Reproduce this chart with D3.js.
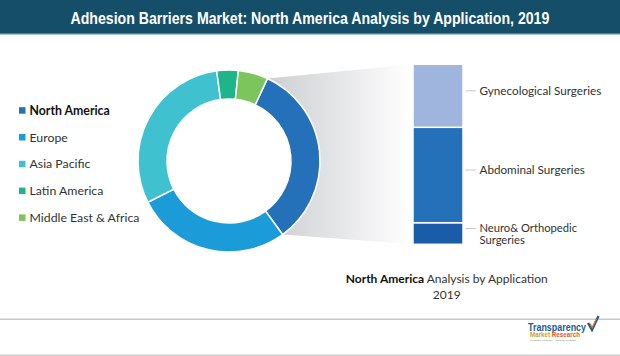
<!DOCTYPE html>
<html><head><meta charset="utf-8">
<script src="https://cdn.jsdelivr.net/npm/d3@7"></script>
<style>
html,body{margin:0;padding:0;background:#fff;}
svg{display:block;}
</style>
</head><body>
<svg id="chart" width="620" height="356"></svg>
<script>
const titleText = "Adhesion Barriers Market: North America Analysis by Application, 2019";
const regions = ["North America", "Europe", "Asia Pacific", "Latin America", "Middle East & Africa"];
const regionShares = [33, 27.5, 30.3, 3.8, 5.3];
const regionColors = ["#2470b9", "#1b9cd8", "#40c1cf", "#1fb58a", "#7cc55c"];
const applications = ["Neuro& Orthopedic Surgeries", "Abdominal Surgeries", "Gynecological Surgeries"];
const applicationShares = [12, 53, 35];
const applicationColors = ["#1a5ca8", "#2470b9", "#a0b5dd"];

const svg = d3.select("#chart");
const font = "Lato, 'Open Sans', sans-serif";

// Title bar
svg.append("rect").attr("x",0).attr("y",0).attr("width",620).attr("height",34).attr("fill","#154e68");
svg.append("rect").attr("x",0).attr("y",33).attr("width",620).attr("height",1.5).attr("fill","#4f8396");
const tg = svg.append("g");
const title = tg.append("text").attr("x",0).attr("y",0)
  .attr("fill","#fff").attr("font-family","'Liberation Sans','DejaVu Sans',sans-serif")
  .attr("font-weight","bold").attr("font-size",17).text(titleText);
const tw = title.node().getComputedTextLength();
tg.attr("transform",`translate(70.5,24.3) scale(${479/tw},1)`);

// Pie
const cx = 229, cy = 161, rOuter = 91, rInner = 62;
const pieData = regions.map((r,i)=>({name:r, value:regionShares[i], color:regionColors[i]}));
const a0 = 25*Math.PI/180;
const arcs = d3.pie().sort(null).value(d=>d.value).startAngle(a0).endAngle(a0+2*Math.PI)(pieData);
const arcGen = d3.arc().innerRadius(rInner).outerRadius(rOuter);

// Wedge (zoom) from North America slice to bar
const barX = 413, barW = 50, barTop = 64.3, barBottom = 244.3;
const na = arcs[0];
const pt = a => [cx + rOuter*Math.sin(a), cy - rOuter*Math.cos(a)];
const p1 = pt(na.startAngle), p2 = pt(na.endAngle);
const defs = svg.append("defs");
const grad = defs.append("linearGradient").attr("id","wg").attr("gradientUnits","userSpaceOnUse")
  .attr("x1",265).attr("y1",0).attr("x2",410).attr("y2",0);
grad.append("stop").attr("offset","0").attr("stop-color","#cdced1");
grad.append("stop").attr("offset","0.45").attr("stop-color","#e2e3e5");
grad.append("stop").attr("offset","1").attr("stop-color","#ffffff");
svg.append("path").attr("d", d3.line()([p1,[barX,barTop],[barX,barBottom],p2,[cx,cy]]) + "Z").attr("fill","url(#wg)");
svg.append("circle").attr("cx",cx).attr("cy",cy).attr("r",rInner).attr("fill","#fff");

const g = svg.append("g").attr("transform",`translate(${cx},${cy})`);
g.selectAll("path").data(arcs).join("path").attr("d",arcGen)
  .attr("fill",d=>d.data.color).attr("stroke","#fff").attr("stroke-width",1.5);

// Legend
const legY0 = 110.5, legStep = 26.8;
const leg = svg.append("g");
regions.forEach((r,i)=>{
  const y = legY0 + i*legStep;
  leg.append("rect").attr("x",19).attr("y",y-3.3).attr("width",6.5).attr("height",6.5).attr("fill",regionColors[i]);
  leg.append("text").attr("x",29.5).attr("y",y+4.3).attr("font-family",font).attr("font-size",12.3)
    .attr("font-weight", i===0 ? "bold" : "normal").attr("fill", i===0 ? "#111" : "#333").text(r);
});

// Stacked bar
const y = d3.scaleLinear().domain([0, d3.sum(applicationShares)]).range([barBottom, barTop]);
let acc = 0;
const segs = applicationShares.map((v,i)=>{ const s = {name:applications[i], y0:acc, y1:acc+v, color:applicationColors[i]}; acc += v; return s; });
svg.append("g").selectAll("rect").data(segs).join("rect")
  .attr("x",barX).attr("width",barW).attr("y",d=>y(d.y1)).attr("height",d=>y(d.y0)-y(d.y1))
  .attr("fill",d=>d.color).attr("stroke","#fff").attr("stroke-width",1.5);

// Bar labels
segs.forEach(d=>{
  const ly = (y(d.y0)+y(d.y1))/2 - 5;
  svg.append("line").attr("x1",465.5).attr("x2",476).attr("y1",ly).attr("y2",ly).attr("stroke","#bbb").attr("stroke-width",0.8);
  if (d.name.startsWith("Neuro")) {
    svg.append("text").attr("x",479.5).attr("y",ly+3).attr("font-family",font).attr("font-size",11.2).attr("fill","#333").text("Neuro& Orthopedic");
    svg.append("text").attr("x",479.5).attr("y",ly+15.3).attr("font-family",font).attr("font-size",11.2).attr("fill","#333").text("Surgeries");
  } else {
    svg.append("text").attr("x",479.5).attr("y",ly+4).attr("font-family",font).attr("font-size",11.7).attr("fill","#333").text(d.name);
  }
});

// Caption
const cap = svg.append("text").attr("x",446.7).attr("y",283).attr("text-anchor","middle")
  .attr("font-family",font).attr("font-size",12).attr("fill","#333");
cap.append("tspan").attr("font-weight","bold").attr("fill","#111").text("North America");
cap.append("tspan").text(" Analysis by Application");
svg.append("text").attr("x",446.7).attr("y",298.5).attr("text-anchor","middle")
  .attr("font-family",font).attr("font-size",12).attr("fill","#333").text("2019");

// Footer lines
svg.append("rect").attr("x",0).attr("y",318.5).attr("width",620).attr("height",1.5).attr("fill","#c8c8c8");
svg.append("rect").attr("x",0).attr("y",354.5).attr("width",620).attr("height",1.5).attr("fill","#d0d0d0");

// Logo
const logo = svg.append("g");
logo.append("text").attr("x",528).attr("y",330.5).attr("font-family","'Liberation Sans','DejaVu Sans',sans-serif")
  .attr("font-weight","bold").attr("font-size",10.5).attr("fill","#1c5b96")
  .attr("textLength",58).attr("lengthAdjust","spacingAndGlyphs").text("Transparency");
const l2 = logo.append("text").attr("x",530).attr("y",337).attr("font-family","'Liberation Sans',sans-serif")
  .attr("font-weight","bold").attr("font-size",6.5)
  .attr("textLength",50).attr("lengthAdjust","spacingAndGlyphs");
l2.append("tspan").attr("fill","#c9a52a").text("Market ");
l2.append("tspan").attr("fill","#e05a2a").text("Research");
logo.append("text").attr("x",530).attr("y",341.3).attr("font-family","sans-serif").attr("font-size",2.4).attr("fill","#777")
  .attr("textLength",46).attr("lengthAdjust","spacingAndGlyphs").text("In-depth Analysis. Accurate Results");
logo.append("path").attr("d","M588,323 L592,330 L598.5,316").attr("fill","none").attr("stroke","#1c5b96").attr("stroke-width",2.4);
logo.append("path").attr("d","M590,323.5 L592.3,327.5 L596.5,318.5").attr("fill","none").attr("stroke","#e8762c").attr("stroke-width",1.2);
</script>
</body></html>
